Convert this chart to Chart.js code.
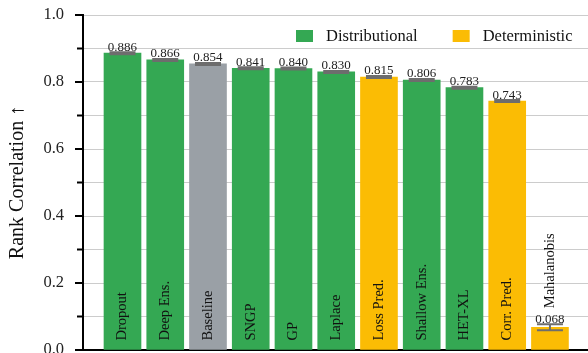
<!DOCTYPE html>
<html>
<head>
<meta charset="utf-8">
<script src="https://cdn.jsdelivr.net/npm/chart.js@4.4.1/dist/chart.umd.min.js"></script>
<style>
  html, body { margin: 0; padding: 0; background: #fff; overflow: hidden; }
  #wrap { width: 588px; height: 372px; }
</style>
</head>
<body>
<div id="wrap"><canvas id="bar-chart"></canvas></div>
<script>
// rank correlation per method, with std over runs
var methods = ["Dropout", "Deep Ens.", "Baseline", "SNGP", "GP", "Laplace", "Loss Pred.", "Shallow Ens.", "HET-XL", "Corr. Pred.", "Mahalanobis"];
var scores = [0.886, 0.866, 0.854, 0.841, 0.840, 0.830, 0.815, 0.806, 0.783, 0.743, 0.068];
var errors = [0.003, 0.003, 0.003, 0.003, 0.003, 0.003, 0.003, 0.003, 0.003, 0.003, 0.009];
var kinds = ["dist", "dist", "base", "dist", "dist", "dist", "det", "dist", "dist", "det", "det"];
var yTicks = [0, 0.1, 0.2, 0.3, 0.4, 0.5, 0.6, 0.7, 0.8, 0.9, 1.0];

var colors = { dist: '#34A853', det: '#FBBC04', base: '#9AA0A6' };
var legendItems = [["Distributional", colors.dist], ["Deterministic", colors.det]];
var serif = '"Liberation Serif", "Times New Roman", serif';

//tick marks on the y axis, long ones where there is a label
var tickMarks = {
    id: 'tickMarks',
    afterDraw: function(chart) {
        var c = chart.ctx, y = chart.scales.y, x0 = chart.chartArea.left;
        c.save();
        c.strokeStyle = '#000';
        c.lineWidth = 2;
        yTicks.forEach(function(v, i) {
            var py = y.getPixelForValue(v);
            var len = (i % 2 === 0) ? 8 : 6;
            c.beginPath();
            c.moveTo(x0 - len, py);
            c.lineTo(x0, py);
            c.stroke();
        });
        c.restore();
    }
};

//error bars, value text and method names
var barText = {
    id: 'barText',
    afterDatasetsDraw: function(chart) {
        var c = chart.ctx, y = chart.scales.y;
        var bars = chart.getDatasetMeta(0).data;
        c.save();
        bars.forEach(function(bar, i) {
            var top = y.getPixelForValue(scores[i] + errors[i]);
            var bot = y.getPixelForValue(scores[i] - errors[i]);
            c.strokeStyle = '#6d6d6d';
            c.lineWidth = 2;
            c.beginPath();
            c.moveTo(bar.x - 13, top); c.lineTo(bar.x + 13, top);
            c.moveTo(bar.x - 13, bot); c.lineTo(bar.x + 13, bot);
            c.moveTo(bar.x, top); c.lineTo(bar.x, bot);
            c.stroke();

            c.fillStyle = '#222';
            c.font = '13px ' + serif;
            c.textAlign = 'center';
            c.textBaseline = 'alphabetic';
            c.fillText(scores[i].toFixed(3), bar.x, top - 1.5);

            c.font = '14.5px ' + serif;
            var w = c.measureText(methods[i]).width;
            var start = bar.base - 9;
            if (bar.base - bar.y < w + 20) start = top - 16;
            c.save();
            c.translate(bar.x, start);
            c.rotate(-Math.PI / 2);
            c.textAlign = 'left';
            c.textBaseline = 'middle';
            c.fillStyle = '#111';
            c.fillText(methods[i], 0, 0);
            c.restore();
        });
        c.restore();
    }
};

var legendBox = {
    id: 'legendBox',
    afterDraw: function(chart) {
        var c = chart.ctx, a = chart.chartArea;
        var x = 296, cy = a.top + 21;
        c.save();
        c.font = '16.5px ' + serif;
        c.textBaseline = 'middle';
        c.textAlign = 'left';
        legendItems.forEach(function(it) {
            c.fillStyle = it[1];
            c.fillRect(x, cy - 6, 17, 12);
            c.fillStyle = '#111';
            c.fillText(it[0], x + 30, cy + 1);
            x += 30 + c.measureText(it[0]).width + 35;
        });
        c.restore();
    }
};

var ctx = document.getElementById('bar-chart');

var barChart = new Chart(ctx, {
    type: 'bar',
    data: {
        datasets: [
            {
                label: 'Rank Correlation',
                data: scores.map(function(v, i) { return { x: i, y: v }; }),
                backgroundColor: kinds.map(function(k) { return colors[k]; }),
                borderWidth: 0,
                barThickness: 37
            }
        ]
    },
    options: {
        responsive: true,
        maintainAspectRatio: false,
        animation: false,
        layout: { padding: { top: 15, right: 0, bottom: 22, left: 0 } },
        plugins: { legend: { display: false }, tooltip: { enabled: false } },
        scales: {
            x: {
                type: 'linear',
                offset: false,
                min: -0.924,
                max: 10.89,
                grid: { drawOnChartArea: false, drawTicks: false },
                border: { color: '#000', width: 2 },
                ticks: { display: false },
                afterFit: function(s) { s.height = 0; }
            },
            y: {
                min: 0,
                max: 1.0,
                afterBuildTicks: function(s) { s.ticks = yTicks.map(function(v) { return { value: v }; }); },
                grid: { color: '#cccccc', lineWidth: 1, drawTicks: false },
                border: { color: '#000', width: 2 },
                ticks: {
                    padding: 19,
                    color: '#222',
                    font: { family: serif, size: 16.5 },
                    callback: function(v) {
                        return Math.round(v * 10) % 2 === 0 ? v.toFixed(1) : '';
                    }
                },
                title: {
                    display: true,
                    text: 'Rank Correlation \u2191',
                    color: '#111',
                    font: { family: serif, size: 20 },
                    padding: { top: 6, bottom: 0 }
                },
                afterFit: function(s) {
                    s.width = 83;
                    s.paddingTop = 0;
                    s.paddingBottom = 0;
                }
            }
        }
    },
    plugins: [tickMarks, barText, legendBox]
});
</script>
</body>
</html>
